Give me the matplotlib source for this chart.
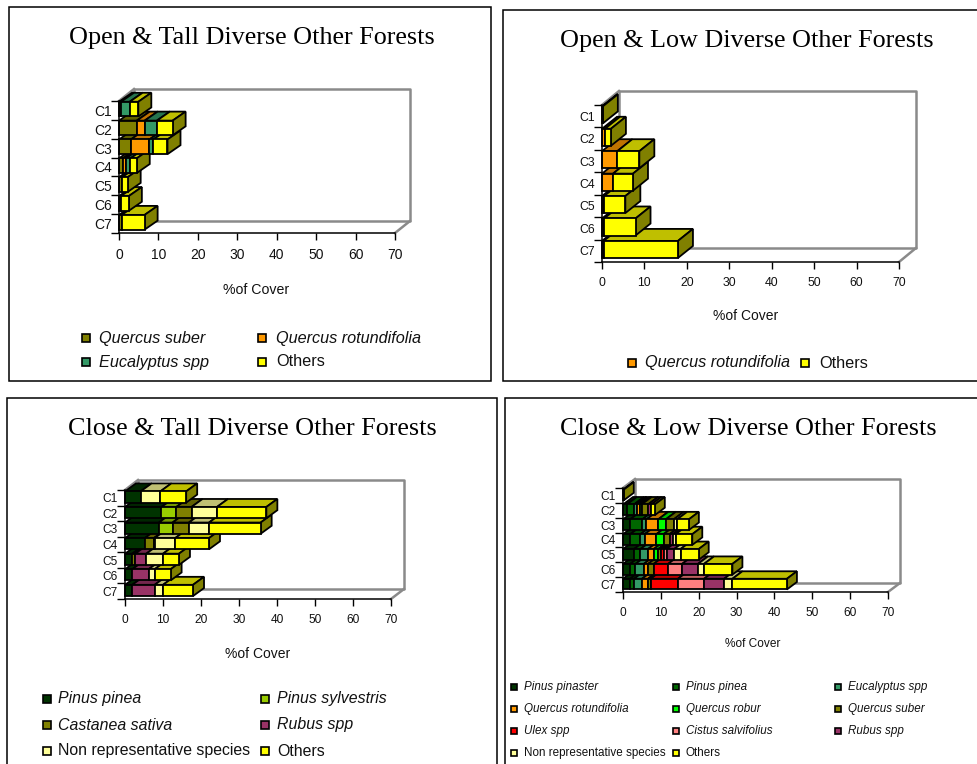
import matplotlib
matplotlib.use('Agg')
import numpy as np
import matplotlib.pyplot as plt
from matplotlib.colors import to_rgb
from matplotlib.patches import Polygon, Rectangle

W, H = 977, 764
SANS = 'Liberation Sans'
SERIF = 'Liberation Serif'

classes = ['C1', 'C2', 'C3', 'C4', 'C5', 'C6', 'C7']
x_ticks = [0, 10, 20, 30, 40, 50, 60, 70]

colors = {
    'Pinus pinaster': '#003300',
    'Pinus pinea': '#006600',
    'Pinus sylvestris': '#99CC00',
    'Castanea sativa': '#808000',
    'Eucalyptus spp': '#339966',
    'Quercus rotundifolia': '#FF9900',
    'Quercus robur': '#00FF00',
    'Quercus suber': '#808000',
    'Ulex spp': '#FF0000',
    'Cistus salvifolius': '#FF8080',
    'Rubus spp': '#993366',
    'Non representative species': '#FFFF99',
    'Others': '#FFFF00',
}
# the tall close forests use the darkest green for Pinus pinea
colors_close_tall = {**colors, 'Pinus pinea': '#003300'}

# Open & Tall
ot_suber = [0.5, 4.5, 3.0, 1.0, 0.8, 0.5, 0.7]
ot_rotundifolia = [0, 2.0, 4.7, 0.8, 0, 0, 0]
ot_eucalyptus = [2.2, 3.1, 1.0, 1.1, 0, 0, 0]
ot_others = [2.2, 4.0, 3.6, 1.6, 1.4, 2.0, 5.8]

# Open & Low
ol_rotundifolia = [0, 0.7, 3.6, 2.6, 0.5, 0.5, 0.4]
ol_others = [0.2, 1.4, 5.2, 4.7, 5.0, 7.4, 17.5]

# Close & Tall
ct_pinea = [4.1, 9.6, 8.9, 5.2, 1.9, 1.9, 1.9]
ct_sylvestris = [0, 3.9, 3.6, 0, 0, 0, 0]
ct_castanea = [0, 4.0, 4.3, 2.4, 0.8, 0, 0]
ct_rubus = [0, 0, 0, 0.2, 2.9, 4.3, 5.9]
ct_nonrep = [5.2, 6.7, 5.3, 5.4, 4.4, 1.6, 2.2]
ct_others = [6.8, 13.0, 13.6, 8.9, 4.2, 4.2, 7.9]

# Close & Low
cl_pinaster = [0, 1.0, 1.9, 1.9, 2.9, 1.9, 1.9]
cl_pinea = [0, 1.9, 3.2, 2.7, 1.7, 1.4, 1.0]
cl_eucalyptus = [0, 0.7, 1.1, 1.1, 2.0, 2.2, 2.1]
cl_rotundifolia = [0, 0.8, 3.1, 3.1, 1.5, 1.1, 1.6]
cl_robur = [0, 0.5, 2.0, 1.9, 1.2, 0, 0]
cl_suber = [0, 1.7, 2.1, 1.6, 0.7, 1.5, 0.7]
cl_ulex = [0, 0, 0, 0, 0.7, 3.8, 7.2]
cl_cistus = [0, 0, 0, 0, 0.8, 3.7, 6.9]
cl_rubus = [0, 0.9, 0, 0.9, 2.0, 4.2, 5.3]
cl_nonrep = [0, 0, 0.9, 0.7, 1.7, 1.6, 2.2]
cl_others = [0.2, 0.9, 3.1, 4.4, 4.8, 7.5, 14.4]

panels = [
    {
        'title': 'Open & Tall Diverse Other Forests',
        'title_xy': (252, 38),
        'rect': (119, 101, 395, 233),
        'wall': (15, 12),
        'bar_depth': (13, 9),
        'bar_height': 0.78,
        'bar_center': 0.43,
        'palette': colors,
        'series': [('Quercus suber', ot_suber), ('Quercus rotundifolia', ot_rotundifolia),
                   ('Eucalyptus spp', ot_eucalyptus), ('Others', ot_others)],
        'tick_size': 10,
        'xlabel': (256, 290, 10.2),
    },
    {
        'title': 'Open & Low Diverse Other Forests',
        'title_xy': (747, 41),
        'rect': (602, 105, 899, 262),
        'wall': (17, 14),
        'bar_depth': (15, 12),
        'bar_height': 0.76,
        'bar_center': 0.44,
        'palette': colors,
        'series': [('Quercus rotundifolia', ol_rotundifolia), ('Others', ol_others)],
        'tick_size': 8.8,
        'xlabel': (746, 316, 10),
    },
    {
        'title': 'Close & Tall Diverse Other Forests',
        'title_xy': (252, 429),
        'rect': (125, 490, 391, 599),
        'wall': (13, 10),
        'bar_depth': (11, 8),
        'bar_height': 0.72,
        'bar_center': 0.45,
        'palette': colors_close_tall,
        'series': [('Pinus pinea', ct_pinea), ('Pinus sylvestris', ct_sylvestris),
                   ('Castanea sativa', ct_castanea), ('Rubus spp', ct_rubus),
                   ('Non representative species', ct_nonrep), ('Others', ct_others)],
        'tick_size': 8.6,
        'xlabel': (258, 654, 10),
    },
    {
        'title': 'Close & Low Diverse Other Forests',
        'title_xy': (748, 429),
        'rect': (623, 488, 888, 592),
        'wall': (12, 9),
        'bar_depth': (10, 7.5),
        'bar_height': 0.72,
        'bar_center': 0.47,
        'palette': colors,
        'series': [('Pinus pinaster', cl_pinaster), ('Pinus pinea', cl_pinea),
                   ('Eucalyptus spp', cl_eucalyptus), ('Quercus rotundifolia', cl_rotundifolia),
                   ('Quercus robur', cl_robur), ('Quercus suber', cl_suber),
                   ('Ulex spp', cl_ulex), ('Cistus salvifolius', cl_cistus),
                   ('Rubus spp', cl_rubus), ('Non representative species', cl_nonrep),
                   ('Others', cl_others)],
        'tick_size': 8.6,
        'xlabel': (753, 644, 8.6),
    },
]

# name, marker x, text x, y, font size, marker size, palette
legend_entries = [
    ('Quercus suber', 86, 99, 338, 11.7, 8, colors),
    ('Quercus rotundifolia', 262, 276, 338, 11.7, 8, colors),
    ('Eucalyptus spp', 86, 99, 362, 11.7, 8, colors),
    ('Others', 262, 276, 362, 11.7, 8, colors),
    ('Quercus rotundifolia', 632, 645, 363, 11.7, 8, colors),
    ('Others', 805, 819, 363, 11.7, 8, colors),
    ('Pinus pinea', 47, 58, 699, 11.4, 8, colors_close_tall),
    ('Pinus sylvestris', 265, 277, 699, 11.4, 8, colors_close_tall),
    ('Castanea sativa', 47, 58, 725, 11.4, 8, colors_close_tall),
    ('Rubus spp', 265, 277, 725, 11.4, 8, colors_close_tall),
    ('Non representative species', 47, 58, 751, 11.4, 8, colors_close_tall),
    ('Others', 265, 277, 751, 11.4, 8, colors_close_tall),
    ('Pinus pinaster', 514, 524, 687, 8.4, 6, colors),
    ('Pinus pinea', 676, 686, 687, 8.4, 6, colors),
    ('Eucalyptus spp', 838, 848, 687, 8.4, 6, colors),
    ('Quercus rotundifolia', 514, 524, 709, 8.4, 6, colors),
    ('Quercus robur', 676, 686, 709, 8.4, 6, colors),
    ('Quercus suber', 838, 848, 709, 8.4, 6, colors),
    ('Ulex spp', 514, 524, 731, 8.4, 6, colors),
    ('Cistus salvifolius', 676, 686, 731, 8.4, 6, colors),
    ('Rubus spp', 838, 848, 731, 8.4, 6, colors),
    ('Non representative species', 514, 524, 753, 8.4, 6, colors),
    ('Others', 676, 686, 753, 8.4, 6, colors),
]

# Outer boxes: left, top, right, bottom
frames = [(9, 7, 491, 381), (503, 10, 980, 381), (7, 398, 497, 770), (505, 398, 980, 770)]


def shade(color, factor):
    return tuple(c * factor for c in to_rgb(color))


def draw_walls(ax, dx, dy):
    # back wall and the floor edges behind the bars
    grey = '#8a8a8a'
    x0, x1 = 0, 70
    y0, y1 = 0, 7
    ax.plot([x0 + dx, x0 + dx, x1 + dx, x1 + dx, x0 + dx],
            [y1 - dy, y0 - dy, y0 - dy, y1 - dy, y1 - dy],
            color=grey, lw=1.8, clip_on=False, zorder=1)
    ax.plot([x1, x1 + dx], [y1, y1 - dy], color=grey, lw=1.8, clip_on=False, zorder=1)
    ax.plot([x0, x0 + dx], [y0, y0 - dy], color=grey, lw=1.8, clip_on=False, zorder=1)


def draw_bar(ax, left, value, row, center, height, dx, dy, color, zorder, last):
    top = row + center - height / 2
    bottom = top + height
    right = left + value
    kw = dict(edgecolor='black', linewidth=1.3, joinstyle='miter', clip_on=False, zorder=zorder)
    ax.add_patch(Polygon([(left, top), (left + dx, top - dy), (right + dx, top - dy), (right, top)],
                         facecolor=shade(color, 0.75), **kw))
    if last:
        ax.add_patch(Polygon([(right, top), (right + dx, top - dy), (right + dx, bottom - dy), (right, bottom)],
                             facecolor=shade('#FFFF00', 0.5), **kw))
    ax.add_patch(Rectangle((left, top), value, height, facecolor=color, **kw))


fig = plt.figure(figsize=(W / 100, H / 100), dpi=100)

# Pixel-based layer for the boxes, titles and legends
bg = fig.add_axes([0, 0, 1, 1])
bg.set_xlim(0, W)
bg.set_ylim(H, 0)
bg.axis('off')

for left, top, right, bottom in frames:
    bg.add_patch(Rectangle((left, top), right - left, bottom - top, facecolor='white',
                           edgecolor='black', linewidth=1.1))

for p in panels:
    left, top, right, bottom = p['rect']
    bg.text(p['title_xy'][0], p['title_xy'][1], p['title'], family=SERIF, fontsize=18.8,
            ha='center', va='center', color='black')
    lx, ly, lsize = p['xlabel']
    bg.text(lx, ly, '%of Cover', family=SANS, fontsize=lsize, ha='center', va='center', color='#111111')

    ax = fig.add_axes([left / W, 1 - bottom / H, (right - left) / W, (bottom - top) / H])
    ax.patch.set_alpha(0)
    ax.set_xlim(0, 70)
    ax.set_ylim(7, 0)
    for side in ('top', 'right'):
        ax.spines[side].set_visible(False)
    for side in ('left', 'bottom'):
        ax.spines[side].set_linewidth(1.1)
        ax.spines[side].set_zorder(200)

    ax.set_xticks(x_ticks)
    ax.set_xticklabels([str(v) for v in x_ticks], family=SANS, fontsize=p['tick_size'], color='#111111')
    ax.tick_params(axis='x', length=5, width=1, pad=6)

    # category ticks sit between the classes, labels in the middle
    ax.set_yticks(np.arange(0, 8))
    ax.set_yticklabels([])
    ax.tick_params(axis='y', which='major', length=6, width=1)
    ax.set_yticks(np.arange(7) + 0.5, minor=True)
    ax.set_yticklabels(classes, minor=True, family=SANS, fontsize=p['tick_size'], color='#111111')
    ax.tick_params(axis='y', which='minor', length=0, pad=5)

    x_unit = (right - left) / 70
    y_unit = (bottom - top) / 7
    draw_walls(ax, p['wall'][0] / x_unit, p['wall'][1] / y_unit)

    dx = p['bar_depth'][0] / x_unit
    dy = p['bar_depth'][1] / y_unit
    # lowest class first, so upper bars overlap the top faces below them
    for row in range(len(classes) - 1, -1, -1):
        used = [(name, vals[row]) for name, vals in p['series'] if vals[row] > 0]
        start = 0
        for i, (name, val) in enumerate(used):
            draw_bar(ax, start, val, row, p['bar_center'], p['bar_height'], dx, dy, p['palette'][name],
                     5 + (6 - row) * 20 + i, i == len(used) - 1)
            start += val

for name, mx, tx, y, size, msize, palette in legend_entries:
    bg.add_patch(Rectangle((mx - msize / 2, y - msize / 2), msize, msize, facecolor=palette[name],
                           edgecolor='black', linewidth=1.2))
    style = 'normal' if name in ('Others', 'Non representative species') else 'italic'
    bg.text(tx, y, name, family=SANS, fontsize=size, style=style, ha='left', va='center', color='#111111')

fig.savefig('out.png', dpi=100)
